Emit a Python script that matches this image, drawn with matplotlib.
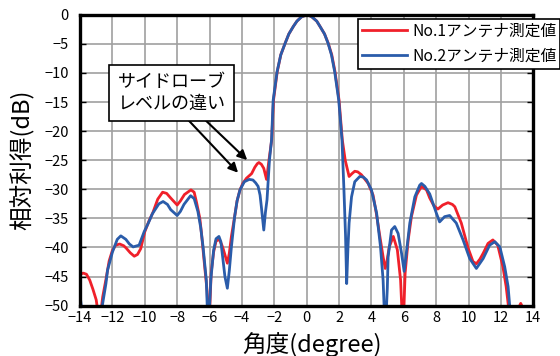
import matplotlib
matplotlib.use("Agg")
import matplotlib.pyplot as plt

plt.rcParams["font.family"] = ["Noto Sans CJK JP", "DejaVu Sans"]

# No.1 antenna (red)
ANG1 = [-14.0, -13.8, -13.6, -13.4, -13.2, -13.0, -12.8, -12.6, -12.4, -12.2,
        -12.0, -11.8, -11.55, -11.3, -11.15, -10.9, -10.65, -10.45, -10.25, -10.0,
        -9.75, -9.5, -9.2, -8.9, -8.65, -8.4, -8.0, -7.8, -7.55, -7.15,
        -6.95, -6.8, -6.6, -6.5, -6.3, -6.15, -6.05, -5.9, -5.75, -5.6,
        -5.4, -5.25, -5.15, -4.9, -4.78, -4.65, -4.45, -4.3, -4.12, -3.95,
        -3.72, -3.4, -3.2, -3.05, -2.95, -2.8, -2.65, -2.48, -2.33, -2.16, -2.05,
        -1.82, -1.6, -1.33, -1.1, -0.82, -0.6, -0.31, 0.05, 0.31, 0.62, 0.82, 1.1,
        1.33, 1.55, 1.75, 2.0,
        2.2, 2.38, 2.62, 2.8, 2.97, 3.15, 3.38, 3.8, 4.1, 4.3,
        4.52, 4.72, 4.85, 4.95, 5.1, 5.35, 5.6, 5.8, 5.95, 6.08,
        6.27, 6.47, 6.78, 7.09, 7.4, 7.6, 7.85, 8.1, 8.4, 8.73,
        9.0, 9.15, 9.55, 9.97, 10.27, 10.48, 10.7, 10.9, 11.2, 11.5,
        11.8, 12.12, 12.32, 12.5, 12.8, 13.1, 13.22, 13.34, 13.6, 14.0]
GAIN1 = [-44.6, -44.4, -44.6, -45.6, -47.2, -49.0, -53.0, -48.5, -45.5, -42.3,
         -40.5, -39.6, -39.4, -39.7, -40.1, -40.9, -41.5, -41.2, -40.2, -37.3,
         -35.5, -34.0, -31.7, -30.5, -30.7, -31.5, -32.7, -32.0, -30.9, -30.1,
         -30.5, -32.3, -35.0, -37.5, -43.3, -47.5, -55.0, -44.4, -40.8, -38.9,
         -38.6, -39.5, -40.3, -42.7, -41.0, -38.1, -34.7, -32.0, -30.1, -29.0,
         -28.1, -27.3, -26.2, -25.6, -25.4, -25.7, -26.4, -28.3, -25.0, -21.5, -14.7,
         -9.8, -6.9, -4.9, -3.3, -2.0, -1.1, -0.35, 0.0, -0.35, -1.1, -2.0, -3.3,
         -4.9, -6.9, -9.8, -14.7,
         -21.5, -25.0, -27.8, -27.3, -26.9, -27.0, -27.5, -29.0, -31.0, -34.1,
         -38.1, -41.6, -43.6, -42.5, -39.9, -38.1, -40.4, -45.6, -55.0, -44.4,
         -38.7, -34.7, -31.0, -29.5, -30.1, -31.5, -32.8, -33.4, -32.7, -32.3,
         -32.6, -33.0, -35.8, -40.1, -42.4, -42.8, -42.0, -41.0, -39.3, -38.7,
         -39.6, -43.3, -46.7, -51.0, -56.0, -50.3, -49.6, -50.3, -56.0, -56.0]

# No.2 antenna (blue)
ANG2 = [-14.0, -13.9, -13.8, -13.3, -12.9, -12.65, -12.6, -12.4, -12.3, -12.0,
        -11.7, -11.48, -11.17, -10.95, -10.72, -10.35, -10.04, -9.78, -9.53, -9.13,
        -8.87, -8.6, -8.4, -8.0, -7.8, -7.58, -7.17, -6.95, -6.72, -6.55,
        -6.4, -6.2, -6.08, -5.92, -5.75, -5.6, -5.42, -5.3, -5.17, -5.05,
        -4.9, -4.78, -4.65, -4.45, -4.3, -4.12, -3.85, -3.55, -3.32, -3.15,
        -3.0, -2.88, -2.8, -2.65, -2.55, -2.45, -2.3, -2.17, -2.07, -1.83,
        -1.6, -1.33, -1.1, -0.82, -0.6, -0.31, 0.05, 0.31, 0.62, 0.82, 1.1, 1.32,
        1.53, 1.73, 1.98, 2.18,
        2.3, 2.4, 2.47, 2.55, 2.62, 2.77, 2.97, 3.28, 3.5, 3.7,
        4.0, 4.32, 4.56, 4.72, 4.85, 4.98, 5.03, 5.24, 5.44, 5.65,
        5.86, 6.02, 6.2, 6.37, 6.68, 6.98, 7.09, 7.3, 7.6, 8.01,
        8.21, 8.52, 8.83, 9.24, 9.66, 10.07, 10.48, 10.9, 11.3, 11.62,
        11.93, 12.23, 12.44, 12.6, 13.0, 14.0]
GAIN2 = [-48.2, -50.5, -53.0, -60.0, -56.0, -50.5, -49.6, -46.2, -43.9, -40.8,
         -38.6, -38.0, -38.6, -39.4, -39.9, -39.6, -37.3, -35.8, -34.2, -32.5,
         -32.1, -32.6, -33.5, -34.5, -33.8, -32.6, -31.1, -31.6, -33.8, -36.5,
         -39.9, -45.6, -55.0, -45.5, -40.5, -38.5, -38.1, -39.0, -42.1, -45.0,
         -47.0, -44.0, -39.9, -34.7, -32.0, -30.1, -28.7, -28.3, -28.4, -28.9,
         -29.5, -31.0, -33.0, -37.0, -34.0, -31.8, -25.0, -21.5, -14.7, -9.8,
         -6.9, -4.9, -3.3, -2.0, -1.1, -0.35, 0.0, -0.35, -1.1, -2.0, -3.3, -4.9,
         -6.9, -9.8, -14.7, -21.5,
         -30.0, -38.0, -46.2, -40.0, -35.8, -31.3, -28.7, -27.8, -27.9, -28.4,
         -30.1, -34.1, -39.9, -45.6, -55.0, -47.0, -41.6, -37.0, -36.4, -37.6,
         -41.0, -44.1, -39.9, -35.8, -31.3, -29.3, -29.0, -29.5, -30.8, -34.1,
         -35.6, -34.7, -34.5, -35.8, -38.7, -41.9, -43.6, -41.9, -39.6, -39.0,
         -39.9, -43.3, -46.7, -52.0, -58.0, -60.0]

LABELS = ["No.1アンテナ測定値", "No.2アンテナ測定値"]
XTICKS = list(range(-14, 15, 2))
YTICKS = list(range(-50, 1, 5))

fig = plt.figure(figsize=(5.6, 3.56), dpi=100)
ax = fig.add_axes([0.1429, 0.1413, 0.8095, 0.8174])

ax.plot(ANG1, GAIN1, color="#f0202a", lw=2.0, label=LABELS[0], solid_joinstyle="round")
ax.plot(ANG2, GAIN2, color="#2a5caa", lw=2.0, label=LABELS[1], solid_joinstyle="round")

ax.set_xlim(-14, 14)
ax.set_ylim(-50, 0)
ax.set_xticks(XTICKS)
ax.set_yticks(YTICKS)
ax.set_xticklabels([str(t).replace("-", "\u2212") for t in XTICKS])
ax.set_yticklabels([str(t).replace("-", "\u2212") for t in YTICKS])
ax.grid(True, color="#a0a0a0", lw=1.2)
ax.set_axisbelow(True)
ax.tick_params(axis="y", direction="in", left=True, right=True, length=4,
               width=1.0, labelsize=10.5, pad=8)
ax.tick_params(axis="x", length=0, labelsize=10.5, pad=4)
for s in ax.spines.values():
    s.set_linewidth(2.4)
    s.set_color("black")

ax.set_xlabel("角度(degree)", fontsize=17, va="center")
ax.set_ylabel("相対利得(dB)", fontsize=17, va="center")
ax.xaxis.set_label_coords(0.512, -0.132)
ax.yaxis.set_label_coords(-0.126, 0.5)

leg = fig.legend(loc="upper left", bbox_to_anchor=(358 / 560, 1 - 19 / 356),
                 fontsize=11.3, handlelength=2.9, handletextpad=0.3,
                 borderpad=0.25, labelspacing=0.5, borderaxespad=0,
                 fancybox=False, framealpha=1, edgecolor="black")
leg.get_frame().set_linewidth(1.2)

ax.annotate("", xy=(-4.12, -27.5), xytext=(-7.72, -16.9),
            arrowprops=dict(arrowstyle="-|>", color="black", lw=1.5, mutation_scale=14))
ax.annotate("", xy=(-3.55, -25.3), xytext=(-6.79, -16.7),
            arrowprops=dict(arrowstyle="-|>", color="black", lw=1.5, mutation_scale=14))
ax.text(-8.35, -13.45, "サイドローブ\nレベルの違い", fontsize=13, ha="center", va="center",
        linespacing=1.3, zorder=5,
        bbox=dict(boxstyle="square,pad=0.45", fc="white", ec="black", lw=1.2))

fig.savefig("out.png", dpi=100)
